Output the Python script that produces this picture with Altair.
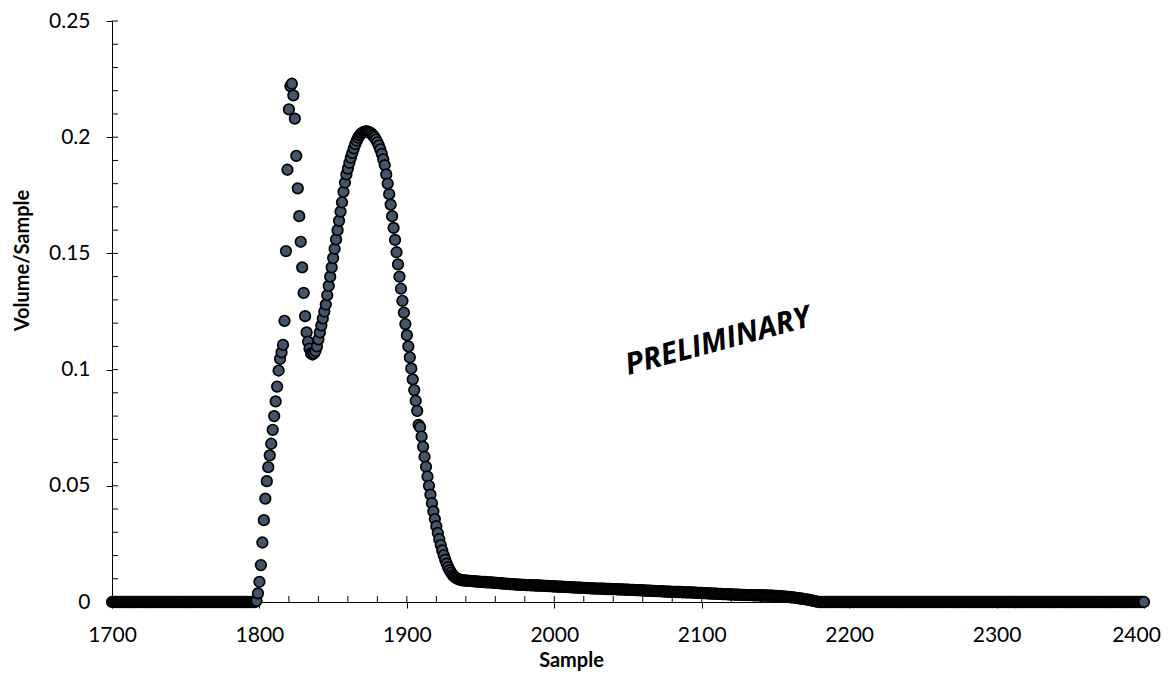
import altair as alt
import pandas as pd

# ---------------- data ----------------
# samples 1700..1797 : flat at zero
LEAD_START = 1700
LEAD = [
    0, 0, 0, 0, 0, 0, 0, 0, 0, 0, 0, 0, 0, 0, 0, 0, 0, 0, 0, 0,
    0, 0, 0, 0, 0, 0, 0, 0, 0, 0, 0, 0, 0, 0, 0, 0, 0, 0, 0, 0,
    0, 0, 0, 0, 0, 0, 0, 0, 0, 0, 0, 0, 0, 0, 0, 0, 0, 0, 0, 0,
    0, 0, 0, 0, 0, 0, 0, 0, 0, 0, 0, 0, 0, 0, 0, 0, 0, 0, 0, 0,
    0, 0, 0, 0, 0, 0, 0, 0, 0, 0, 0, 0, 0, 0, 0, 0, 0, 0,
]

# samples 1798..1938 : rise, spike, main peak and fall
PEAK_START = 1798
PEAK = [
    0.0005, 0.0037, 0.0087, 0.0159, 0.0256, 0.0352, 0.0445, 0.0520, 0.0580, 0.0631,
    0.0681, 0.0741, 0.0800, 0.0863, 0.0927, 0.0996, 0.1046, 0.1074, 0.1106, 0.1210,
    0.1510, 0.1860, 0.2120, 0.2220, 0.2230, 0.2180, 0.2080, 0.1920, 0.1780, 0.1660,
    0.1550, 0.1440, 0.1330, 0.1230, 0.1160, 0.1120, 0.1090, 0.1070, 0.1065, 0.1070,
    0.1080, 0.1100, 0.1130, 0.1160, 0.1190, 0.1220, 0.1250, 0.1280, 0.1320, 0.1360,
    0.1400, 0.1440, 0.1480, 0.1520, 0.1560, 0.1600, 0.1640, 0.1680, 0.1720, 0.1765,
    0.1805, 0.1840, 0.1865, 0.1890, 0.1912, 0.1932, 0.1952, 0.1970, 0.1985, 0.1998,
    0.2008, 0.2015, 0.2020, 0.2023, 0.2025, 0.2025, 0.2023, 0.2020, 0.2015, 0.2008,
    0.2000, 0.1990, 0.1978, 0.1964, 0.1948, 0.1928, 0.1905, 0.1880, 0.1840, 0.1800,
    0.1755, 0.1710, 0.1660, 0.1610, 0.1558, 0.1505, 0.1453, 0.1400, 0.1348, 0.1296,
    0.1245, 0.1196, 0.1148, 0.1100, 0.1053, 0.1005, 0.0958, 0.0912, 0.0866, 0.0822,
    0.0762, 0.0752, 0.0712, 0.0668, 0.0625, 0.0582, 0.0540, 0.0500, 0.0462, 0.0425,
    0.0390, 0.0357, 0.0326, 0.0297, 0.0270, 0.0245, 0.0222, 0.0201, 0.0182, 0.0165,
    0.0150, 0.0137, 0.0126, 0.0117, 0.0110, 0.0105, 0.0101, 0.0098, 0.0096, 0.0094,
    0.0093,
]

# samples 1939..2180 : slowly decaying tail
TAIL_START = 1939
TAIL = [
    0.0093, 0.0092, 0.0092, 0.0091, 0.0091, 0.0090, 0.0090, 0.0089, 0.0089, 0.0088,
    0.0088, 0.0087, 0.0087, 0.0086, 0.0086, 0.0085, 0.0085, 0.0084, 0.0084, 0.0083,
    0.0083, 0.0082, 0.0082, 0.0081, 0.0081, 0.0080, 0.0080, 0.0079, 0.0079, 0.0078,
    0.0078, 0.0077, 0.0077, 0.0077, 0.0076, 0.0076, 0.0075, 0.0075, 0.0075, 0.0074,
    0.0074, 0.0074, 0.0073, 0.0073, 0.0073, 0.0072, 0.0072, 0.0072, 0.0071, 0.0071,
    0.0071, 0.0070, 0.0070, 0.0070, 0.0069, 0.0069, 0.0069, 0.0068, 0.0068, 0.0068,
    0.0067, 0.0067, 0.0067, 0.0066, 0.0066, 0.0066, 0.0066, 0.0065, 0.0065, 0.0065,
    0.0064, 0.0064, 0.0064, 0.0063, 0.0063, 0.0063, 0.0062, 0.0062, 0.0062, 0.0062,
    0.0061, 0.0061, 0.0061, 0.0060, 0.0060, 0.0060, 0.0059, 0.0059, 0.0059, 0.0058,
    0.0058, 0.0058, 0.0058, 0.0057, 0.0057, 0.0057, 0.0056, 0.0056, 0.0056, 0.0056,
    0.0055, 0.0055, 0.0055, 0.0055, 0.0054, 0.0054, 0.0054, 0.0054, 0.0053, 0.0053,
    0.0053, 0.0053, 0.0052, 0.0052, 0.0052, 0.0052, 0.0051, 0.0051, 0.0051, 0.0051,
    0.0050, 0.0050, 0.0050, 0.0049, 0.0049, 0.0049, 0.0049, 0.0048, 0.0048, 0.0048,
    0.0047, 0.0047, 0.0047, 0.0047, 0.0046, 0.0046, 0.0046, 0.0045, 0.0045, 0.0045,
    0.0045, 0.0044, 0.0044, 0.0044, 0.0043, 0.0043, 0.0043, 0.0043, 0.0042, 0.0042,
    0.0042, 0.0041, 0.0041, 0.0041, 0.0041, 0.0040, 0.0040, 0.0040, 0.0039, 0.0039,
    0.0039, 0.0039, 0.0038, 0.0038, 0.0038, 0.0037, 0.0037, 0.0037, 0.0036, 0.0036,
    0.0036, 0.0036, 0.0035, 0.0035, 0.0035, 0.0034, 0.0034, 0.0034, 0.0034, 0.0033,
    0.0033, 0.0033, 0.0033, 0.0032, 0.0032, 0.0032, 0.0032, 0.0031, 0.0031, 0.0031,
    0.0031, 0.0030, 0.0030, 0.0030, 0.0030, 0.0030, 0.0029, 0.0029, 0.0029, 0.0029,
    0.0029, 0.0028, 0.0028, 0.0028, 0.0028, 0.0028, 0.0027, 0.0027, 0.0027, 0.0027,
    0.0026, 0.0026, 0.0026, 0.0025, 0.0025, 0.0024, 0.0024, 0.0023, 0.0023, 0.0022,
    0.0022, 0.0021, 0.0020, 0.0020, 0.0019, 0.0018, 0.0017, 0.0016, 0.0015, 0.0014,
    0.0013, 0.0012, 0.0011, 0.0010, 0.0009, 0.0008, 0.0006, 0.0005, 0.0004, 0.0002,
    0.0001, 0.0000,
]

# samples 2181..2400 : flat at zero
TRAIL_START = 2181
TRAIL = [
    0, 0, 0, 0, 0, 0, 0, 0, 0, 0, 0, 0, 0, 0, 0, 0, 0, 0, 0, 0,
    0, 0, 0, 0, 0, 0, 0, 0, 0, 0, 0, 0, 0, 0, 0, 0, 0, 0, 0, 0,
    0, 0, 0, 0, 0, 0, 0, 0, 0, 0, 0, 0, 0, 0, 0, 0, 0, 0, 0, 0,
    0, 0, 0, 0, 0, 0, 0, 0, 0, 0, 0, 0, 0, 0, 0, 0, 0, 0, 0, 0,
    0, 0, 0, 0, 0, 0, 0, 0, 0, 0, 0, 0, 0, 0, 0, 0, 0, 0, 0, 0,
    0, 0, 0, 0, 0, 0, 0, 0, 0, 0, 0, 0, 0, 0, 0, 0, 0, 0, 0, 0,
    0, 0, 0, 0, 0, 0, 0, 0, 0, 0, 0, 0, 0, 0, 0, 0, 0, 0, 0, 0,
    0, 0, 0, 0, 0, 0, 0, 0, 0, 0, 0, 0, 0, 0, 0, 0, 0, 0, 0, 0,
    0, 0, 0, 0, 0, 0, 0, 0, 0, 0, 0, 0, 0, 0, 0, 0, 0, 0, 0, 0,
    0, 0, 0, 0, 0, 0, 0, 0, 0, 0, 0, 0, 0, 0, 0, 0, 0, 0, 0, 0,
    0, 0, 0, 0, 0, 0, 0, 0, 0, 0, 0, 0, 0, 0, 0, 0, 0, 0, 0, 0,
]

X_MAJOR = [1700, 1800, 1900, 2000, 2100, 2200, 2300, 2400]
X_MINOR = [1700, 1720, 1740, 1760, 1780, 1800, 1820, 1840, 1860, 1880,
           1900, 1920, 1940, 1960, 1980, 2000, 2020, 2040, 2060, 2080,
           2100, 2120, 2140, 2160, 2180, 2200, 2220, 2240, 2260, 2280,
           2300, 2320, 2340, 2360, 2380, 2400]
Y_MAJOR = [0, 0.05, 0.1, 0.15, 0.2, 0.25]
Y_MINOR = [0, 0.01, 0.02, 0.03, 0.04, 0.05, 0.06, 0.07, 0.08, 0.09,
           0.10, 0.11, 0.12, 0.13, 0.14, 0.15, 0.16, 0.17, 0.18, 0.19,
           0.20, 0.21, 0.22, 0.23, 0.24, 0.25]

NOTE_X = [2111]
NOTE_Y = [0.112]
NOTE_TEXT = ["PRELIMINARY"]

X_TITLE = "Sample"
Y_TITLE = "Volume/Sample"

# ---------------- build table ----------------
rows = []
for start, seg in [(LEAD_START, LEAD), (PEAK_START, PEAK),
                   (TAIL_START, TAIL), (TRAIL_START, TRAIL)]:
    for i, v in enumerate(seg):
        rows.append({"sample": start + i, "value": v})
df = pd.DataFrame(rows)

W, H = 1032, 581
FONT = "Lato"

xscale = alt.Scale(domain=[1700, 2400], nice=False, zero=False)
yscale = alt.Scale(domain=[0, 0.25], nice=False, zero=True)

x_axis = alt.Axis(values=X_MAJOR, format="d", title=X_TITLE, labelFlush=False,
                  labelOffset={"condition": {"test": "datum.value >= 2400", "value": -8},
                               "value": 0},
                  titleX=459, titleY=58, titleBaseline="middle",
                  titleAlign="center")
y_axis = alt.Axis(values=Y_MAJOR, format="~g", title=Y_TITLE, labelFlush=False,
                  titleX=-90, titleY=239, titleBaseline="middle",
                  titleAlign="center", titleAngle=270)

y_minor = alt.Chart(pd.DataFrame({"t": Y_MINOR})).mark_rule(
    color="black", strokeWidth=1
).encode(
    y=alt.Y("t:Q", scale=yscale, axis=y_axis, title=Y_TITLE),
    x=alt.value(0),
    x2=alt.value(6),
)

x_minor = alt.Chart(pd.DataFrame({"t": X_MINOR})).mark_rule(
    color="black", strokeWidth=1
).encode(
    x=alt.X("t:Q", scale=xscale, axis=x_axis, title=X_TITLE),
    y=alt.value(H),
    y2=alt.value(H - 6),
)

note = alt.Chart(pd.DataFrame({"nx": NOTE_X, "ny": NOTE_Y, "label": NOTE_TEXT})).mark_text(
    font="Open Sans", fontSize=30, fontWeight="bold", fontStyle="italic",
    angle=345, align="center", baseline="middle", color="black"
).encode(
    x=alt.X("nx:Q", scale=xscale, axis=x_axis, title=X_TITLE),
    y=alt.Y("ny:Q", scale=yscale, axis=y_axis, title=Y_TITLE),
    text="label:N",
)

points = alt.Chart(df).mark_point(
    shape="circle", filled=True, fill="#44546A", stroke="#000000",
    strokeWidth=1.7, size=112, opacity=1, fillOpacity=1
).encode(
    x=alt.X("sample:Q", scale=xscale, axis=x_axis, title=X_TITLE),
    y=alt.Y("value:Q", scale=yscale, axis=y_axis, title=Y_TITLE),
)

chart = alt.layer(y_minor, x_minor, note, points).properties(
    width=W, height=H,
    autosize=alt.AutoSizeParams(type="none"),
    padding={"left": 104, "top": 13, "right": 18, "bottom": 70},
).configure_view(
    stroke=None
).configure_axis(
    grid=False,
    domainColor="black", domainWidth=1,
    tickColor="black", tickWidth=1, tickSize=6,
    labelFont=FONT, labelFontSize=21, labelColor="black", labelPadding=16,
    titleFont=FONT, titleFontSize=20, titleFontWeight="bold", titleColor="black",
)

chart.save("out.html", embed_options={"renderer": "svg", "actions": False})
